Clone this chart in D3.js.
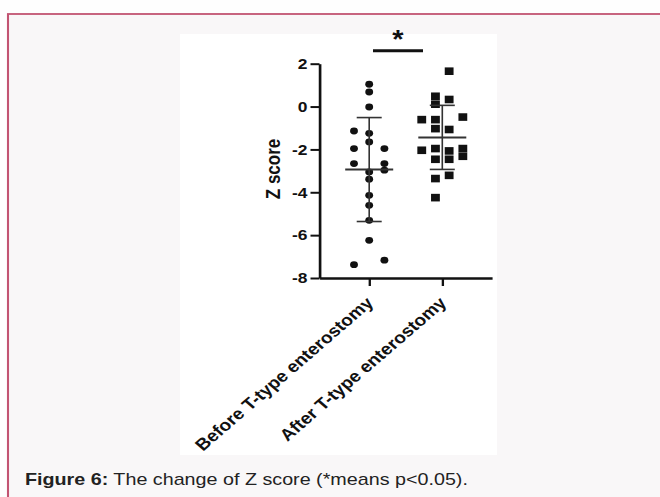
<!DOCTYPE html>
<html>
<head>
<meta charset="utf-8">
<script src="https://cdn.jsdelivr.net/npm/d3@7"></script>
<style>
html, body { margin: 0; padding: 0; background: #fff; }
svg { display: block; }
</style>
</head>
<body>
<script>
// values (Z score per patient)
var groups = ["Before T-type enterostomy", "After T-type enterostomy"];
var beforeValues = [1.04, 0.68, -0.02, -1.14, -1.25, -1.65, -1.96, -1.96, -2.66, -2.66,
    -2.97, -3.05, -3.39, -4.14, -4.61, -5.31, -6.24, -7.38, -7.17];
var beforeSlots = [0, 0, 0, -1, 0, 0, -1, 1, -1, 1, 1, 0, 0, 0, 0, 0, 0, -1, 1];
var afterValues = [1.65, 0.48, 0.33, 0.11, -0.61, -0.61, -0.49, -1.03, -1.07, -2.04,
    -1.96, -2.07, -1.96, -2.46, -2.46, -2.32, -3.36, -3.21, -4.25];
var afterSlots = [0.5, -0.5, 0.5, -0.5, -1.5, -0.5, 1.5, -0.5, 0.5, -1.5,
    -0.5, 0.5, 1.5, -0.5, 0.5, 1.5, -0.5, 0.5, -0.5];
var yTicks = [2, 0, -2, -4, -6, -8];
var yTitle = "Z score";
var sigMark = "*";
var captionBold = "Figure 6:";
var captionText = " The change of Z score (*means p<0.05).";

var W = 660, H = 497;
var SX = 1.16; // the source picture is stretched horizontally
var font = "'Liberation Sans', Arial, Helvetica, sans-serif";
function X(px) { return px / SX; }

var svg = d3.select("body").append("svg")
    .attr("width", W)
    .attr("height", H);

var root = svg.append("g").attr("transform", "scale(" + SX + ",1)");

// page frame
root.append("rect")
    .attr("x", 0).attr("y", 0)
    .attr("width", X(W)).attr("height", H)
    .attr("fill", "#fefefe");
root.append("rect")
    .attr("x", X(8)).attr("y", 14)
    .attr("width", X(700)).attr("height", 520)
    .attr("fill", "#f9f7f8")
    .attr("stroke", "#c25472")
    .attr("stroke-width", 1.8);
// white figure panel
root.append("rect")
    .attr("x", X(180)).attr("y", 34)
    .attr("width", X(317)).attr("height", 421)
    .attr("fill", "#fff");

var y = d3.scaleLinear().domain([-8, 2]).range([278, 63.7]);
var x = d3.scalePoint().domain(groups).range([X(319.5), X(492)]).padding(0.68);
var slotStep = [X(15.2), X(13.7)];

var series = [
    { name: groups[0], values: beforeValues, slots: beforeSlots, shape: "circle" },
    { name: groups[1], values: afterValues, slots: afterSlots, shape: "square" }
];

// y axis (plain hyphen for negatives, like the source)
var yAxis = root.append("g")
    .attr("transform", "translate(" + X(319.5) + ",0)")
    .call(d3.axisLeft(y)
        .tickValues(yTicks)
        .tickFormat(function(d) { return String(d); })
        .tickSize(X(9)).tickSizeOuter(0).tickPadding(X(3)));
yAxis.select(".domain").attr("stroke", "#111").attr("stroke-width", 2.3);
yAxis.selectAll(".tick line").attr("stroke", "#111").attr("stroke-width", 2);
yAxis.selectAll(".tick text")
    .attr("font-family", font)
    .attr("font-weight", "bold")
    .attr("font-size", 15)
    .attr("fill", "#111");

// x axis
var xAxis = root.append("g")
    .attr("transform", "translate(0," + y(-8) + ")")
    .call(d3.axisBottom(x).tickSize(8).tickSizeOuter(0));
xAxis.select(".domain").attr("stroke", "#111").attr("stroke-width", 2.3);
xAxis.selectAll(".tick line").attr("stroke", "#111").attr("stroke-width", 2);
xAxis.selectAll(".tick text")
    .attr("x", 0).attr("y", 0).attr("dy", 0)
    .attr("transform", "translate(4,26) rotate(-45)")
    .attr("text-anchor", "end")
    .attr("font-family", font)
    .attr("font-weight", "bold")
    .attr("font-size", 16.5)
    .attr("fill", "#111");

root.append("text")
    .attr("transform", "translate(" + X(280) + ",169) rotate(-90)")
    .attr("text-anchor", "middle")
    .attr("font-family", font)
    .attr("font-weight", "bold")
    .attr("font-size", 17)
    .attr("fill", "#111")
    .text(yTitle);

// points
series.forEach(function(s, gi) {
    var g = root.append("g");
    var pts = s.values.map(function(v, i) { return { v: v, slot: s.slots[i] }; });
    if (s.shape === "circle") {
        g.selectAll("circle")
            .data(pts)
            .enter()
            .append("circle")
            .attr("cx", function(d) { return x(s.name) + d.slot * slotStep[gi]; })
            .attr("cy", function(d) { return y(d.v); })
            .attr("r", 3.4)
            .attr("fill", "#111");
    } else {
        var side = 7.6;
        g.selectAll("rect")
            .data(pts)
            .enter()
            .append("rect")
            .attr("x", function(d) { return x(s.name) + d.slot * slotStep[gi] - side / 2; })
            .attr("y", function(d) { return y(d.v) - side / 2; })
            .attr("width", side)
            .attr("height", side)
            .attr("fill", "#111");
    }
});

// mean and SD bars
series.forEach(function(s) {
    var m = d3.mean(s.values), sd = d3.deviation(s.values);
    var cx = x(s.name);
    var g = root.append("g").attr("stroke", "#333");
    g.append("line")
        .attr("x1", cx).attr("x2", cx)
        .attr("y1", y(m + sd)).attr("y2", y(m - sd))
        .attr("stroke-width", 1.4);
    [m + sd, m - sd].forEach(function(v) {
        g.append("line")
            .attr("x1", cx - X(12.5)).attr("x2", cx + X(12.5))
            .attr("y1", y(v)).attr("y2", y(v))
            .attr("stroke-width", 1.6);
    });
    g.append("line")
        .attr("x1", cx - X(24)).attr("x2", cx + X(24))
        .attr("y1", y(m)).attr("y2", y(m))
        .attr("stroke-width", 2);
});

// significance bracket
root.append("line")
    .attr("x1", X(373)).attr("x2", X(423))
    .attr("y1", 50.7).attr("y2", 50.7)
    .attr("stroke", "#111")
    .attr("stroke-width", 3);
root.append("text")
    .attr("x", X(398)).attr("y", 48)
    .attr("text-anchor", "middle")
    .attr("font-family", font)
    .attr("font-weight", "bold")
    .attr("font-size", 25)
    .attr("fill", "#111")
    .text(sigMark);

// caption
var cap = root.append("text")
    .attr("x", X(25)).attr("y", 485.5)
    .attr("font-family", font)
    .attr("font-size", 17)
    .attr("fill", "#222");
cap.append("tspan").attr("font-weight", "bold").text(captionBold);
cap.append("tspan").text(captionText);
</script>
</body>
</html>
